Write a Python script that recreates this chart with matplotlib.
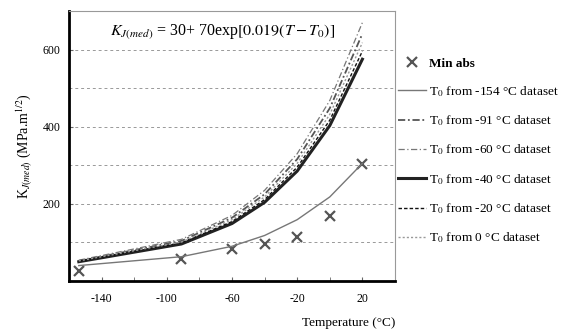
import matplotlib.pyplot as plt
from matplotlib.ticker import MultipleLocator

plt.rcParams['font.family'] = ['Liberation Serif', 'DejaVu Serif']
plt.rcParams['mathtext.fontset'] = 'stix'
plt.rcParams['axes.unicode_minus'] = False

# measured minimum values
t_abs = [-154, -91, -60, -40, -20, 0, 20]
k_abs = [25, 57, 83, 96, 114, 168, 304]

# master curves, read at the dataset temperatures
t_curve = [-154, -91, -60, -40, -20, 0, 20]
k_154 = [40, 63, 90, 118, 159, 218, 305]
k_91 = [52, 104, 164, 225, 316, 448, 641]
k_60 = [54, 108, 170, 235, 330, 468, 670]
k_40 = [50, 96, 149, 204, 285, 403, 575]
k_20 = [51, 99, 154, 211, 295, 417, 596]
k_0 = [52, 101, 159, 218, 305, 432, 618]

labels = ['Min abs',
          r'T$_0$ from -154 °C dataset',
          r'T$_0$ from -91 °C dataset',
          r'T$_0$ from -60 °C dataset',
          r'T$_0$ from -40 °C dataset',
          r'T$_0$ from -20 °C dataset',
          r'T$_0$ from 0 °C dataset']

fig = plt.figure(figsize=(5.65, 3.34), dpi=100)
ax = fig.add_axes([69/565, 1-281/334, (395-69)/565, (281-11)/334])

ax.yaxis.set_minor_locator(MultipleLocator(100))
ax.grid(True, which='both', axis='y', linestyle=(0, (3, 3)), color='#999999', linewidth=0.7)
ax.set_axisbelow(True)

h0, = ax.plot(t_abs, k_abs, 'x', color='#555555', markersize=7, markeredgewidth=1.6, linestyle='none')
h1, = ax.plot(t_curve, k_154, color='#777777', linewidth=1.0)
h2, = ax.plot(t_curve, k_91, color='#555555', linewidth=1.3, linestyle=(0, (4, 1.5, 1, 1.5)))
h3, = ax.plot(t_curve, k_60, color='#777777', linewidth=0.9, linestyle=(0, (5, 2, 1, 2)))
h4, = ax.plot(t_curve, k_40, color='#222222', linewidth=2.2)
h5, = ax.plot(t_curve, k_20, color='#111111', linewidth=1.0, linestyle=(0, (2.5, 1.5)))
h6, = ax.plot(t_curve, k_0, color='#999999', linewidth=1.0, linestyle=(0, (1.5, 1.5)))

ax.set_xlim(-160, 40)
ax.set_ylim(0, 700)
ax.set_xticks([-140, -100, -60, -20, 20])
ax.set_yticks([200, 400, 600])
ax.xaxis.set_minor_locator(MultipleLocator(20))
ax.tick_params(which='both', direction='in', length=3, labelsize=8.5, color='#666666')
ax.tick_params(axis='x', pad=9)
ax.tick_params(axis='y', pad=6)
ax.tick_params(axis='y', which='minor', length=0)

ax.spines['left'].set_linewidth(2)
ax.spines['bottom'].set_linewidth(2)
ax.spines['top'].set_color('#999999')
ax.spines['right'].set_color('#999999')

ax.set_xlabel('Temperature (°C)', fontsize=9.5, loc='right', labelpad=8)
ax.set_ylabel(r'K$_{J(med)}$ (MPa.m$^{1/2}$)', fontsize=10, labelpad=6)

ax.text(0.47, 0.96, r'$K_{J(med)}$ = 30+ 70exp$\left[0.019(T - T_0)\right]$',
        transform=ax.transAxes, ha='center', va='top', fontsize=11.5)

leg = fig.legend([h0, h1, h2, h3, h4, h5, h6], labels, loc='upper left',
                 bbox_to_anchor=(393/565, 1-52/334), frameon=False, fontsize=9.5,
                 labelspacing=1.1, handlelength=2.1, handletextpad=0.2, borderaxespad=0)
leg.get_texts()[0].set_fontweight('bold')

fig.savefig('out.png', dpi=100)
